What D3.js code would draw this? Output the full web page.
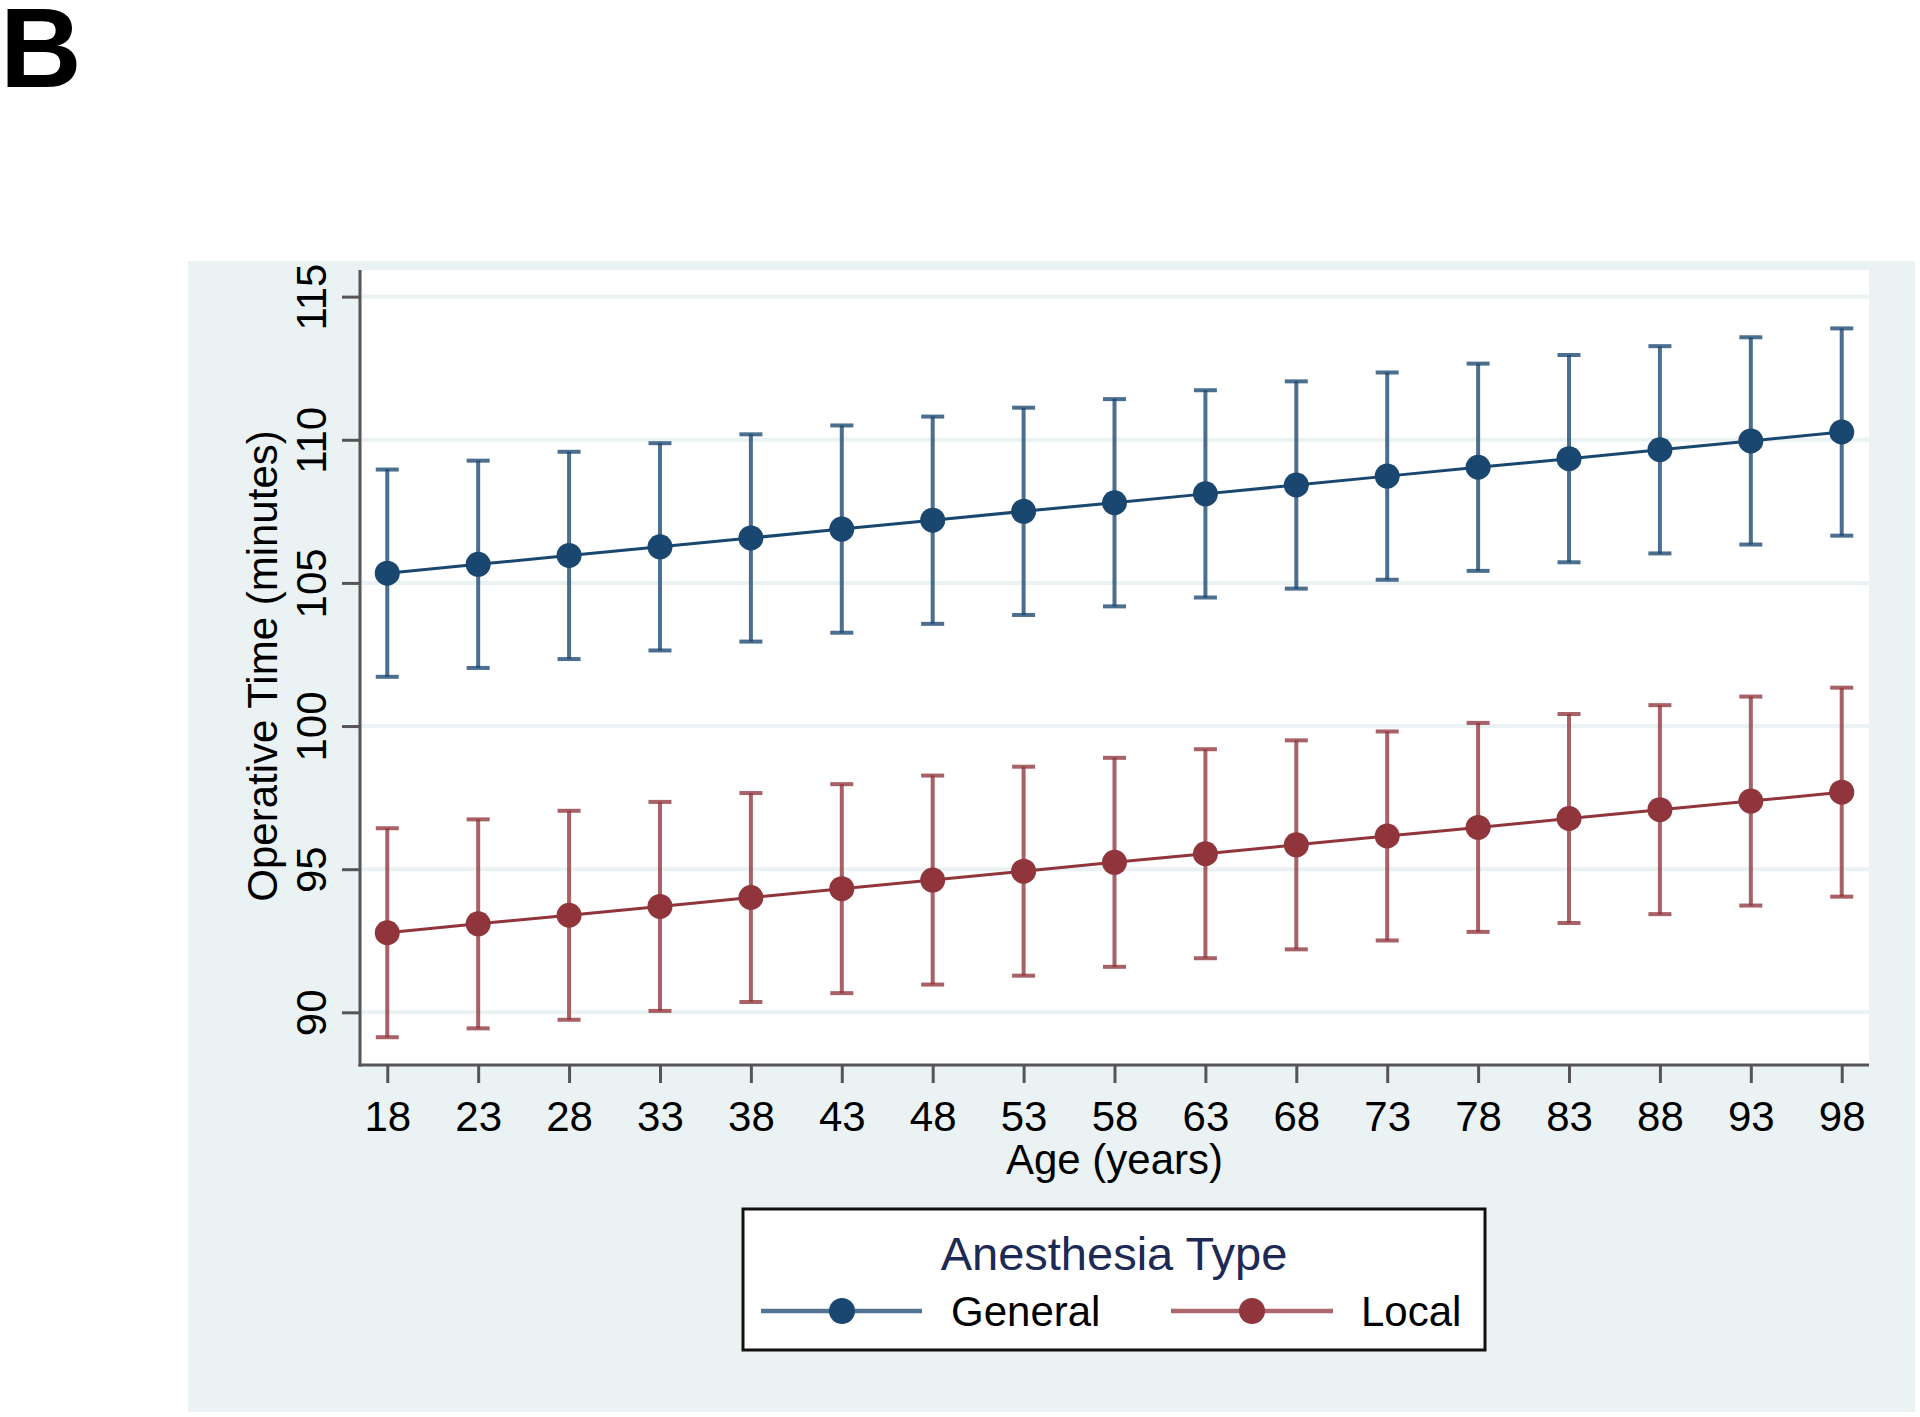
<!DOCTYPE html>
<html>
<head>
<meta charset="utf-8">
<script src="https://cdn.jsdelivr.net/npm/d3@7"></script>
<style>
  html, body { margin: 0; padding: 0; background: #ffffff; }
  svg { display: block; }
  text { font-family: "Liberation Sans", Arial, sans-serif; }
</style>
</head>
<body>
<svg id="chart" width="1920" height="1417"></svg>
<script>
// ---- data ----
const ages = [18, 23, 28, 33, 38, 43, 48, 53, 58, 63, 68, 73, 78, 83, 88, 93, 98];
const generalMean  = [105.34, 105.65, 105.96, 106.26, 106.57, 106.88, 107.19, 107.50, 107.80, 108.11, 108.42, 108.73, 109.04, 109.34, 109.65, 109.96, 110.27];
const generalLower = [101.72, 102.03, 102.34, 102.64, 102.95, 103.26, 103.57, 103.88, 104.18, 104.49, 104.80, 105.11, 105.42, 105.72, 106.03, 106.34, 106.65];
const generalUpper = [108.96, 109.27, 109.58, 109.88, 110.19, 110.50, 110.81, 111.12, 111.42, 111.73, 112.04, 112.35, 112.66, 112.96, 113.27, 113.58, 113.89];
const localMean  = [92.78, 93.09, 93.39, 93.70, 94.01, 94.32, 94.62, 94.93, 95.24, 95.54, 95.85, 96.16, 96.46, 96.77, 97.08, 97.38, 97.69];
const localLower = [89.13, 89.44, 89.74, 90.05, 90.36, 90.67, 90.97, 91.28, 91.59, 91.89, 92.20, 92.51, 92.81, 93.12, 93.43, 93.73, 94.04];
const localUpper = [96.43, 96.74, 97.04, 97.35, 97.66, 97.97, 98.27, 98.58, 98.89, 99.19, 99.50, 99.81, 100.11, 100.42, 100.73, 101.03, 101.34];
const yTicks = [90, 95, 100, 105, 110, 115];
const seriesNames = ["General", "Local"];
const legendTitle = "Anesthesia Type";
const xTitle = "Age (years)";
const yTitle = "Operative Time (minutes)";
const panelLabel = "B";

// ---- layout ----
const svg = d3.select("#chart");
const plot = { left: 360, right: 1869, top: 270, bottom: 1065 };
const colors = { General: "#1a476f", Local: "#90353b" };
const bg = "#eaf2f3";

const x = d3.scaleLinear().domain([16.5, 99.5]).range([plot.left, plot.right]);
const y = d3.scaleLinear().domain([88.16, 115.93]).range([plot.bottom, plot.top]);

// outer graph region
svg.append("rect").attr("x", 188).attr("y", 261).attr("width", 1727).attr("height", 1151).attr("fill", bg);
// plot region
svg.append("rect").attr("x", plot.left).attr("y", plot.top)
   .attr("width", plot.right - plot.left).attr("height", plot.bottom - plot.top).attr("fill", "#ffffff");

// panel label
svg.append("text").attr("x", 0).attr("y", 87).attr("font-size", 113).attr("font-weight", "bold")
   .attr("fill", "#000").text(panelLabel);

// gridlines
svg.append("g").selectAll("line").data(yTicks).join("line")
   .attr("x1", plot.left).attr("x2", plot.right)
   .attr("y1", d => y(d)).attr("y2", d => y(d))
   .attr("stroke", bg).attr("stroke-width", 4);

// y axis
const yAxis = svg.append("g").attr("transform", `translate(${plot.left},0)`)
   .call(d3.axisLeft(y).tickValues(yTicks).tickSize(18).tickPadding(0).tickFormat(d3.format("d")));
yAxis.select(".domain").remove();
yAxis.selectAll(".tick line").attr("stroke", "#555").attr("stroke-width", 3);
yAxis.selectAll(".tick text")
   .attr("x", null).attr("dy", null)
   .attr("transform", "translate(-34,0) rotate(-90)")
   .attr("text-anchor", "middle").attr("font-size", 42).attr("fill", "#000")
   .style("font-family", "'Liberation Sans', Arial, sans-serif");
svg.append("line").attr("x1", plot.left).attr("x2", plot.left).attr("y1", plot.top).attr("y2", plot.bottom + 1.5)
   .attr("stroke", "#555").attr("stroke-width", 3);

// x axis
const xAxis = svg.append("g").attr("transform", `translate(0,${plot.bottom})`)
   .call(d3.axisBottom(x).tickValues(ages).tickSize(18).tickPadding(0).tickFormat(d3.format("d")));
xAxis.select(".domain").remove();
xAxis.selectAll(".tick line").attr("stroke", "#555").attr("stroke-width", 3);
xAxis.selectAll(".tick text").attr("y", 66).attr("dy", null)
   .attr("font-size", 42).attr("fill", "#000")
   .style("font-family", "'Liberation Sans', Arial, sans-serif");
svg.append("line").attr("x1", plot.left - 1.5).attr("x2", plot.right).attr("y1", plot.bottom).attr("y2", plot.bottom)
   .attr("stroke", "#555").attr("stroke-width", 3);

// axis titles
svg.append("text").attr("x", (plot.left + plot.right) / 2).attr("y", 1174)
   .attr("text-anchor", "middle").attr("font-size", 42).attr("fill", "#000").text(xTitle);
svg.append("text").attr("transform", "translate(277,666) rotate(-90)")
   .attr("text-anchor", "middle").attr("font-size", 42).attr("fill", "#000").text(yTitle);

// series
const series = [
  { name: "General", mean: generalMean, lo: generalLower, hi: generalUpper },
  { name: "Local", mean: localMean, lo: localLower, hi: localUpper }
];
const capHalf = 11.5;
series.forEach(s => {
  const pts = ages.map((a, i) => ({ a, m: s.mean[i], lo: s.lo[i], hi: s.hi[i] }));
  const g = svg.append("g");
  const c = colors[s.name];
  g.selectAll("line.v").data(pts).join("line").attr("class", "v")
    .attr("x1", d => x(d.a)).attr("x2", d => x(d.a)).attr("y1", d => y(d.lo)).attr("y2", d => y(d.hi))
    .attr("stroke", c).attr("stroke-opacity", 0.78).attr("stroke-width", 4);
  g.selectAll("line.hi").data(pts).join("line").attr("class", "hi")
    .attr("x1", d => x(d.a) - capHalf).attr("x2", d => x(d.a) + capHalf).attr("y1", d => y(d.hi)).attr("y2", d => y(d.hi))
    .attr("stroke", c).attr("stroke-opacity", 0.78).attr("stroke-width", 4);
  g.selectAll("line.lo").data(pts).join("line").attr("class", "lo")
    .attr("x1", d => x(d.a) - capHalf).attr("x2", d => x(d.a) + capHalf).attr("y1", d => y(d.lo)).attr("y2", d => y(d.lo))
    .attr("stroke", c).attr("stroke-opacity", 0.78).attr("stroke-width", 4);
  g.append("path").datum(pts)
    .attr("d", d3.line().x(d => x(d.a)).y(d => y(d.m)))
    .attr("fill", "none").attr("stroke", c).attr("stroke-width", 3);
  g.selectAll("circle").data(pts).join("circle")
    .attr("cx", d => x(d.a)).attr("cy", d => y(d.m)).attr("r", 12.5).attr("fill", c);
});

// legend
const lg = svg.append("g");
lg.append("rect").attr("x", 743).attr("y", 1209).attr("width", 742).attr("height", 141)
  .attr("fill", "#fff").attr("stroke", "#111").attr("stroke-width", 3);
lg.append("text").attr("x", 1114).attr("y", 1270).attr("text-anchor", "middle")
  .attr("font-size", 47).attr("fill", "#1c2a55").text(legendTitle);
const legendItems = [
  { name: seriesNames[0], x1: 761, x2: 922, mx: 842, tx: 951 },
  { name: seriesNames[1], x1: 1171, x2: 1333, mx: 1252, tx: 1361 }
];
legendItems.forEach(it => {
  const c = colors[it.name];
  lg.append("line").attr("x1", it.x1).attr("x2", it.x2).attr("y1", 1311).attr("y2", 1311)
    .attr("stroke", c).attr("stroke-opacity", 0.75).attr("stroke-width", 4.5);
  lg.append("circle").attr("cx", it.mx).attr("cy", 1311).attr("r", 13).attr("fill", c);
  lg.append("text").attr("x", it.tx).attr("y", 1326).attr("font-size", 42).attr("fill", "#000").text(it.name);
});
</script>
</body>
</html>
